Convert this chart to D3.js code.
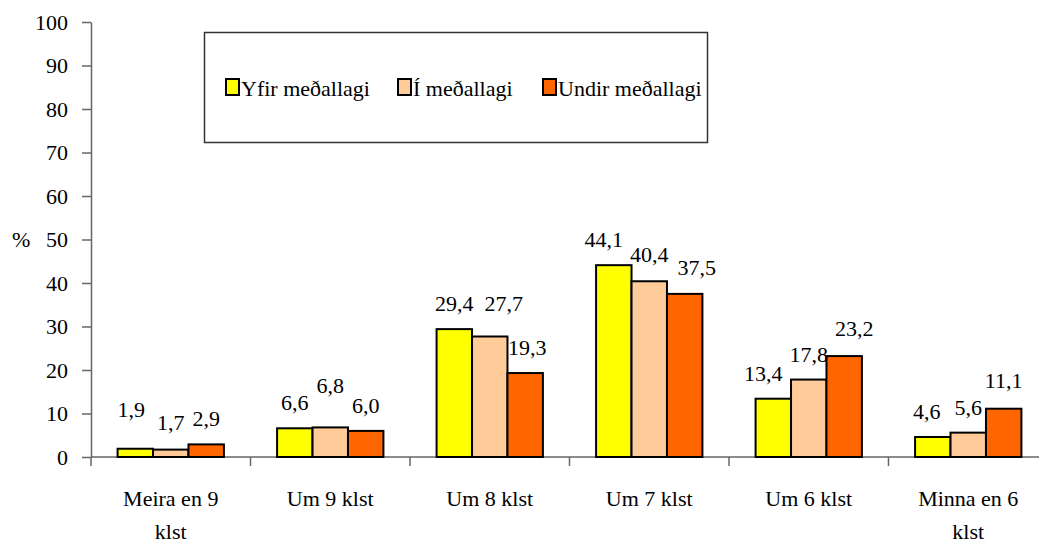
<!DOCTYPE html>
<html>
<head>
<meta charset="utf-8">
<script src="https://cdn.jsdelivr.net/npm/d3@7"></script>
</head>
<body style="margin:0;background:#fff">
<div id="chart"></div>
<script>
const categories = [['Meira en 9', 'klst'], ['Um 9 klst'], ['Um 8 klst'], ['Um 7 klst'], ['Um 6 klst'], ['Minna en 6', 'klst']];
const seriesNames = ['Yfir meðallagi', 'Í meðallagi', 'Undir meðallagi'];
const yfir = [1.9, 6.6, 29.4, 44.1, 13.4, 4.6];
const imedal = [1.7, 6.8, 27.7, 40.4, 17.8, 5.6];
const undir = [2.9, 6.0, 19.3, 37.5, 23.2, 11.1];
const yTicks = [0, 10, 20, 30, 40, 50, 60, 70, 80, 90, 100];

// label nudges [dx, dy] relative to default spot above each bar
const labelNudge = [
  [[-4, -14], [0, -2], [0, 0]],
  [[0, 0], [0, -16], [0, 0]],
  [[0, 0], [14, -8], [2, 0]],
  [[-10, 0], [0, -1], [12, -1]],
  [[-10, 0], [0, 0], [10, -2]],
  [[-6, 0], [0, 0], [0, -3]],
];

const colors = ['#FFFF00', '#FFCC99', '#FF6600'];
const series = [yfir, imedal, undir];
const FONT = "Liberation Serif, 'Times New Roman', serif";
const FS = '22px';

const W = 1039, H = 544;
const margin = { top: 22, right: -9, bottom: 87, left: 91 };
const width = W - margin.left - margin.right;
const height = H - margin.top - margin.bottom;

const svg = d3.select('#chart').append('svg')
  .attr('width', W)
  .attr('height', H)
  .style('font-family', FONT);

const g = svg.append('g')
  .attr('transform', `translate(${margin.left},${margin.top})`);

const x0 = d3.scaleBand().domain(d3.range(categories.length)).range([0, width]);
// gap width 150% -> each bar = band / 4.5
const barW = x0.bandwidth() / 4.5;
const x1 = d3.scaleBand().domain(d3.range(3))
  .range([barW * 0.75, barW * 3.75]);
const y = d3.scaleLinear().domain([0, 100]).range([height, 0]);

// y axis
const yAxis = g.append('g')
  .call(d3.axisLeft(y).tickValues(yTicks).tickSize(9).tickSizeOuter(0).tickPadding(14))
  .attr('font-family', null);
yAxis.selectAll('path, line').attr('stroke', '#666').attr('stroke-width', 1.5);
yAxis.selectAll('text').style('font-size', FS).attr('fill', '#000');

// x axis: baseline with ticks between categories
const xAxis = g.append('g')
  .attr('transform', `translate(0,${height})`);
xAxis.append('line').attr('x1', 0).attr('x2', width).attr('y1', 0).attr('y2', 0)
  .attr('stroke', '#666').attr('stroke-width', 1.5);
xAxis.selectAll('.tk').data(d3.range(categories.length + 1)).join('line')
  .attr('class', 'tk')
  .attr('x1', i => i * x0.step()).attr('x2', i => i * x0.step())
  .attr('y1', 0).attr('y2', 9)
  .attr('stroke', '#666').attr('stroke-width', 1.5);

xAxis.selectAll('.cat').data(categories).join('text')
  .attr('class', 'cat')
  .attr('text-anchor', 'middle')
  .style('font-size', FS)
  .each(function (lines, i) {
    d3.select(this).selectAll('tspan').data(lines).join('tspan')
      .attr('x', x0(i) + x0.bandwidth() / 2)
      .attr('y', (d, k) => 49 + k * 33)
      .text(d => d);
  });

// bars
const groups = g.selectAll('.grp').data(categories).join('g')
  .attr('class', 'grp')
  .attr('transform', (d, i) => `translate(${x0(i)},0)`);

groups.selectAll('rect').data((d, i) => series.map((s, k) => ({ v: s[i], k })))
  .join('rect')
  .attr('x', d => x1(d.k))
  .attr('width', x1.bandwidth())
  .attr('y', d => y(d.v))
  .attr('height', d => height - y(d.v))
  .attr('fill', d => colors[d.k])
  .attr('stroke', '#000')
  .attr('stroke-width', 2);

groups.selectAll('.lbl').data((d, i) => series.map((s, k) => ({ v: s[i], k, i })))
  .join('text')
  .attr('class', 'lbl')
  .attr('text-anchor', 'middle')
  .style('font-size', FS)
  .attr('x', d => x1(d.k) + x1.bandwidth() / 2 + labelNudge[d.i][d.k][0])
  .attr('y', d => y(d.v) - 18 + labelNudge[d.i][d.k][1])
  .text(d => d.v.toFixed(1).replace('.', ','));

// y label
svg.append('text').attr('x', 12).attr('y', 247)
  .style('font-size', FS).text('%');

// legend
const legend = svg.append('g');
legend.append('rect')
  .attr('x', 204.5).attr('y', 32.5).attr('width', 503).attr('height', 110)
  .attr('fill', '#fff').attr('stroke', '#333').attr('stroke-width', 1.5);
const legendX = [226, 398, 543];
seriesNames.forEach((name, k) => {
  legend.append('rect')
    .attr('x', legendX[k]).attr('y', 79).attr('width', 13).attr('height', 16)
    .attr('fill', colors[k]).attr('stroke', '#000').attr('stroke-width', 2);
  legend.append('text')
    .attr('x', legendX[k] + 15).attr('y', 96)
    .style('font-size', FS)
    .text(name);
});
</script>
</body>
</html>
